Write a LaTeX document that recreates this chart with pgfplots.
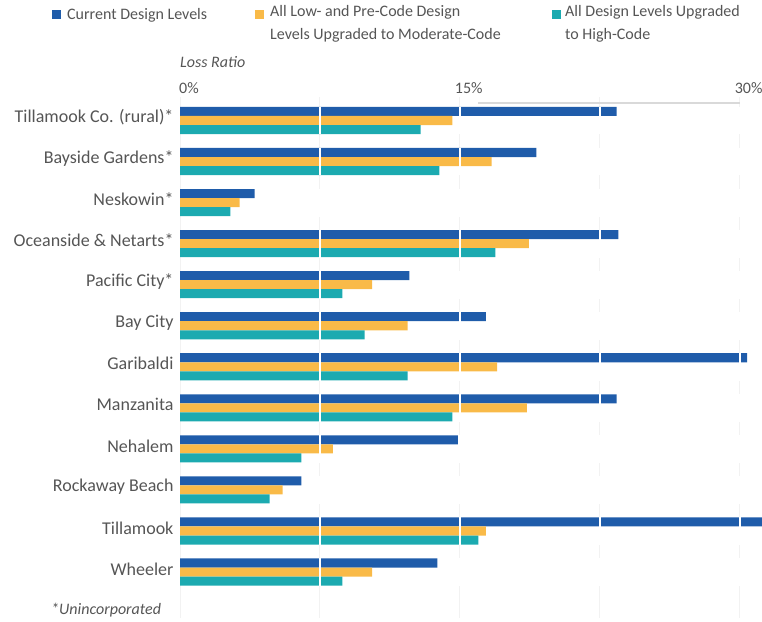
\documentclass[border=0pt]{standalone}
\usepackage{pgfplots}
\pgfplotsset{compat=1.18}
\usepackage{fontspec}
\setmainfont{Carlito}
\definecolor{cblue}{HTML}{1F5CAA}
\definecolor{corange}{HTML}{F9BA48}
\definecolor{cteal}{HTML}{1CAAB0}
\definecolor{txt}{HTML}{555555}

\begin{document}
\begin{tikzpicture}[x=1pt,y=1pt]
\useasboundingbox (0,0) rectangle (762,-621);
% legend
\fill[cblue] (52,-10) rectangle (61,-19);
\node[anchor=west, text=txt, font=\fontsize{16}{23}\selectfont, inner sep=0] at (67,-15) {Current Design Levels};
\fill[corange] (255,-10) rectangle (264,-19);
\node[anchor=north west, align=left, text=txt, font=\fontsize{16}{23}\selectfont, inner sep=0] at (270,-5) {All Low- and Pre-Code Design\\Levels Upgraded to Moderate-Code};
\fill[cteal] (552,-10) rectangle (561,-19);
\node[anchor=north west, align=left, text=txt, font=\fontsize{16}{23}\selectfont, inner sep=0] at (565,-5) {All Design Levels Upgraded\\to High-Code};
\node[anchor=west, text=txt, font=\fontsize{16}{18}\selectfont\itshape, inner sep=0] at (180,-62) {Loss Ratio};
\node[anchor=west, text=txt, font=\fontsize{16}{18}\selectfont\itshape, inner sep=0] at (51,-610) {*Unincorporated};

\begin{axis}[
  at={(180pt,-618pt)}, anchor=south west,
  scale only axis, width=582pt, height=521pt,
  xmin=0, xmax=31.2,
  ymin=-0.572, ymax=12.12, y dir=reverse,
  axis line style={draw=none},
  major tick length=0,
  xticklabel pos=upper,
  xtick={0,7.5,15,22.5,30},
  xticklabels={0\%,,15\%,,30\%},
  xticklabel style={text=txt, font=\fontsize{16}{18}\selectfont, xshift=9pt},
  xmajorgrids, grid style={gray!10, line width=1pt},
  ytick={0,...,11},
  yticklabels={Tillamook Co. (rural)*, Bayside Gardens*, Neskowin*, Oceanside \& Netarts*, Pacific City*, Bay City, Garibaldi, Manzanita, Nehalem, Rockaway Beach, Tillamook, Wheeler},
  yticklabel style={text=txt, font=\fontsize{18}{20}\selectfont, xshift=-3pt, yshift=3pt},
  /pgf/number format/assume math mode=true,
  bar width=0.22,
  clip=false,
]
\addplot[xbar, fill=cblue, draw=none, bar shift=-0.22] coordinates {
  (23.4,0) (19.1,1) (4.0,2) (23.5,3) (12.3,4) (16.4,5)
  (30.4,6) (23.4,7) (14.9,8) (6.5,9) (31.2,10) (13.8,11)};
\addplot[xbar, fill=corange, draw=none, bar shift=0] coordinates {
  (14.6,0) (16.7,1) (3.2,2) (18.7,3) (10.3,4) (12.2,5)
  (17.0,6) (18.6,7) (8.2,8) (5.5,9) (16.4,10) (10.3,11)};
\addplot[xbar, fill=cteal, draw=none, bar shift=0.22] coordinates {
  (12.9,0) (13.9,1) (2.7,2) (16.9,3) (8.7,4) (9.9,5)
  (12.2,6) (14.6,7) (6.5,8) (4.8,9) (16.0,10) (8.7,11)};
% white grid lines over the bars
\pgfplotsinvokeforeach{0,...,11}{
  \draw[white, line width=2pt] (axis cs:7.5,#1-0.34) -- (axis cs:7.5,#1+0.34);
  \draw[white, line width=2pt] (axis cs:15,#1-0.34) -- (axis cs:15,#1+0.34);
  \draw[white, line width=2pt] (axis cs:22.5,#1-0.34) -- (axis cs:22.5,#1+0.34);
  \draw[white, line width=2pt] (axis cs:30,#1-0.34) -- (axis cs:30,#1+0.34);
}
\draw[gray!30, line width=1.5pt] (axis cs:16,-0.426) -- (axis cs:30,-0.426);
\end{axis}
\end{tikzpicture}
\end{document}
